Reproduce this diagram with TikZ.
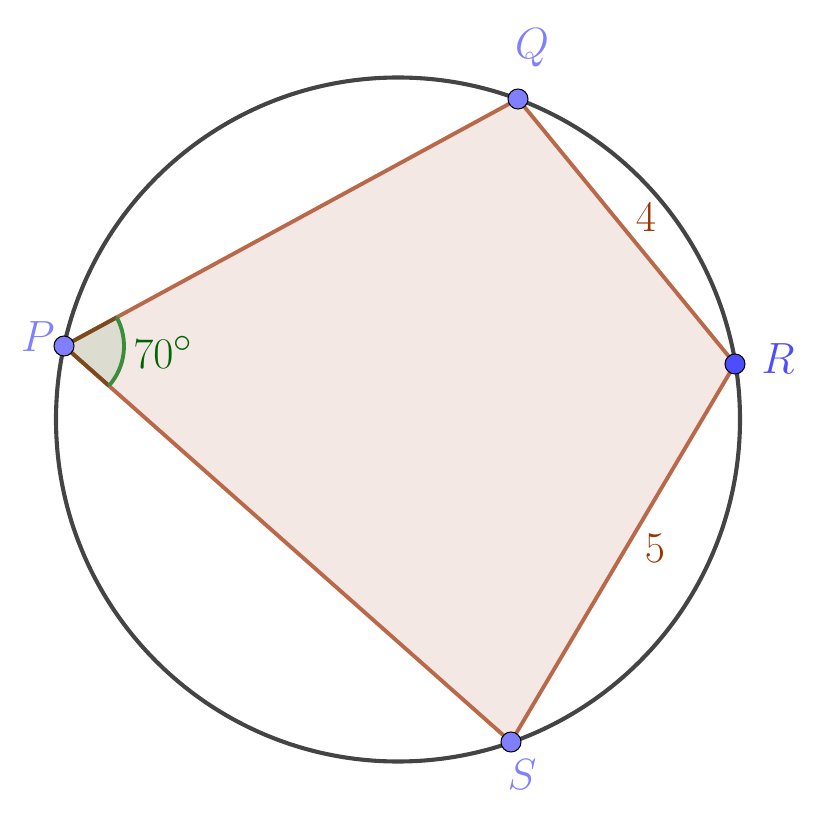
\documentclass[tikz,border=0pt]{standalone}
\usepackage{xcolor}
\usepackage{tikz}
\usetikzlibrary{positioning}
\definecolor{rim}{HTML}{444444}
\definecolor{edge}{HTML}{B9694A}
\definecolor{quadfill}{HTML}{F3E8E3}
\definecolor{sidelbl}{HTML}{993300}
\definecolor{anglegreen}{HTML}{3C8C3C}
\definecolor{angleedge}{HTML}{7A4A1E}
\definecolor{anglefill}{HTML}{DCDDD0}
\definecolor{angletext}{HTML}{006400}
\definecolor{ptblue}{HTML}{7F7FFF}
\definecolor{ptdark}{HTML}{4D4DFF}
\newlength{\pxu}
\setlength{\pxu}{0.03cm}
\newcommand{\biglbl}[1]{\scalebox{1.5}{$#1$}}
\tikzset{
  pt/.style={circle,draw=black,line width=0.9pt,fill=ptblue,inner sep=0pt,minimum size=20\pxu},
  ptlbl/.style={text=ptblue},
}

\begin{document}
\begin{tikzpicture}[x=0.03cm,y=-0.03cm,font=\fontsize{24.88}{30}\selectfont]
  \useasboundingbox (0,0) rectangle (832,824);
  \coordinate (P) at (64,346);
  \coordinate (Q) at (518,99);
  \coordinate (R) at (735,364);
  \coordinate (S) at (511,742);
  % quadrilateral
  \fill[quadfill] (P) -- (Q) -- (R) -- (S) -- cycle;
  \fill[anglefill] (P) -- ++(28.5:60\pxu) arc (28.5:-41.5:60\pxu) -- cycle;
  \draw[rim,line width=3.5pt] (398,419.5) circle (342\pxu);
  \draw[edge,line width=3.3pt] (P) -- (Q) -- (R) -- (S) -- cycle;
  \draw[angleedge,line width=3.3pt] (P) -- ++(28.5:60\pxu);
  \draw[angleedge,line width=3.3pt] (P) -- ++(-41.5:60\pxu);
  \draw[anglegreen,line width=3.3pt] (P) ++(28.5:60\pxu) arc (28.5:-41.5:60\pxu);
  \node[text=angletext] (ang) at (163,352) {\biglbl{70^\circ}};
  \node[text=sidelbl] (qr) at (646,217) {\biglbl{4}};
  \node[text=sidelbl] (rs) at (655,548) {\biglbl{5}};
  % points
  \node[pt] (p) at (P) {};
  \node[pt] (q) at (Q) {};
  \node[pt,fill=ptdark] (r) at (R) {};
  \node[pt] (s) at (S) {};
  \node[ptlbl] (lp) at (38,337) {\biglbl{P}};
  \node[ptlbl] (lq) at (532,48) {\biglbl{Q}};
  \node[ptlbl,text=ptdark] (lr) at (778,359) {\biglbl{R}};
  \node[ptlbl] (ls) at (522,775) {\biglbl{S}};
\end{tikzpicture}
\end{document}
